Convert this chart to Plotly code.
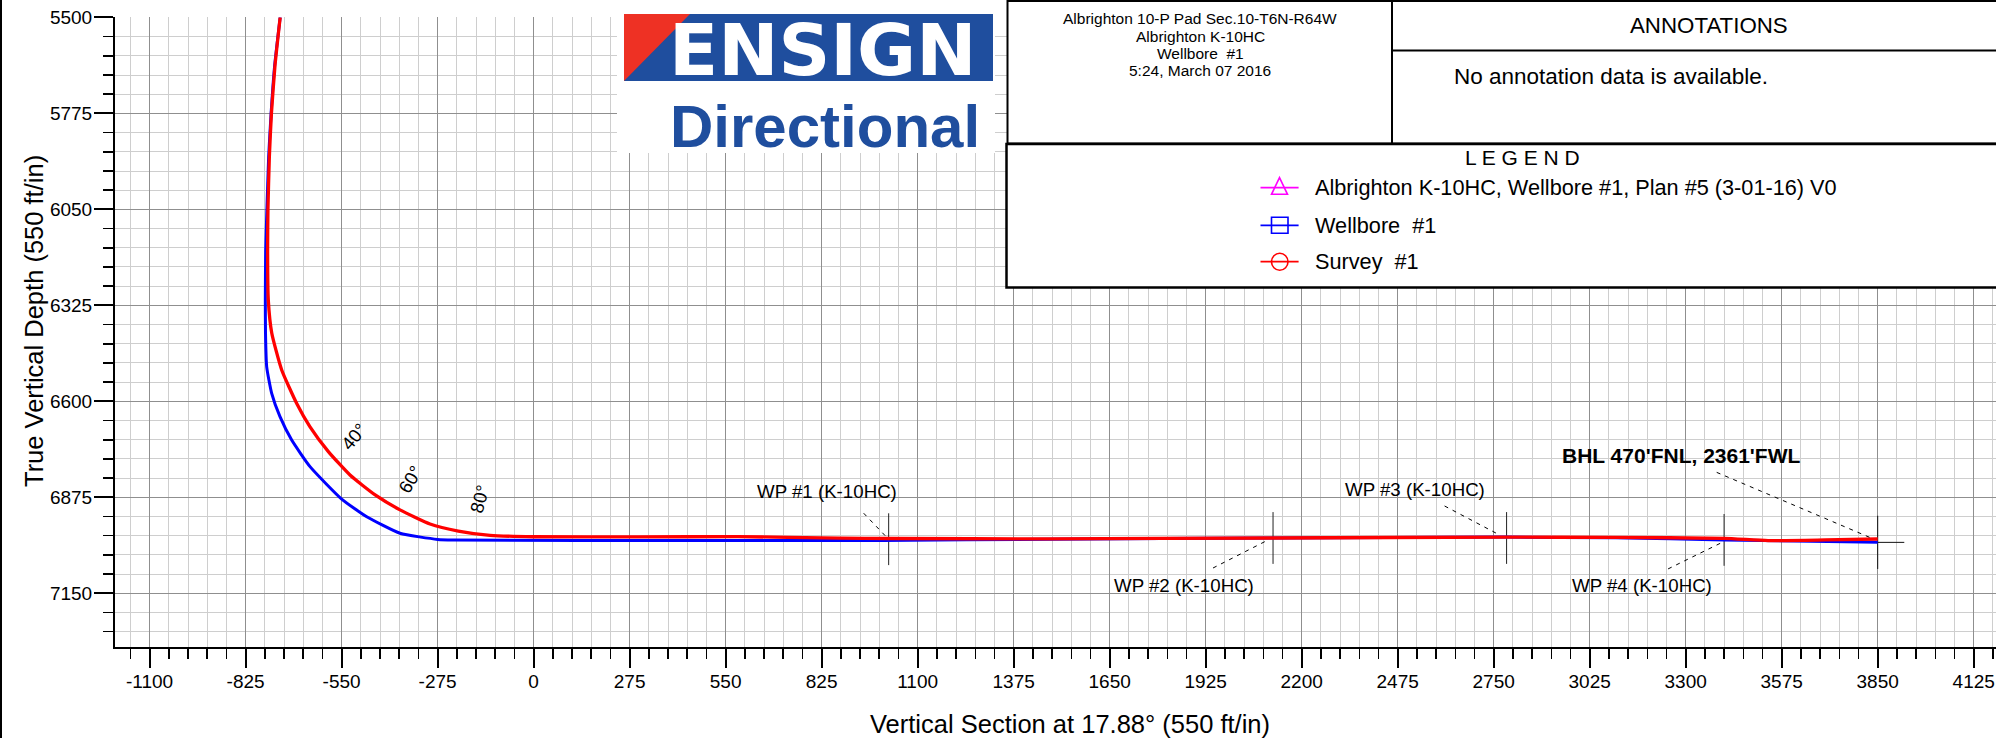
import plotly.graph_objects as go

W, H = 1996, 738

# ---------------- data ----------------
wellbore_vs = [-726, -742, -752, -759, -764, -767.5, -768.5, -768, -764.6, -750.3, -726.5, -693, -640.5,
               -549.8, -478, -382.7, -274.7, -230, 476, 1000, 1479, 2118, 2787, 3100, 3410, 3850]
wellbore_tvd = [5500, 5640, 5775, 5900, 6050, 6170, 6310, 6405, 6501, 6577, 6644, 6711, 6787,
                6880, 6930.6, 6978, 6995.5, 6997.3, 6999, 6998.5, 6995, 6991.5, 6989, 6991, 6997, 7004]

survey_vs = [-726, -741, -751, -757, -761, -762, -760, -750, -721.6, -678.6, -640.5, -588, -526, -454,
             -382.7, -296.8, -215.7, -124.9, -1, 300, 584, 878, 1017, 1479, 2118, 2787, 3100, 3410, 3536, 3700, 3850]
survey_tvd = [5500, 5640, 5775, 5900, 6050, 6170, 6310, 6405, 6510, 6606, 6673, 6744, 6811, 6868,
              6911, 6951.5, 6971.6, 6984, 6988, 6988.5, 6987.5, 6992, 6993, 6994, 6991.5, 6989, 6990, 6992.4, 6999, 6997, 6994.4]

wp_names = ["WP #1 (K-10HC)", "WP #2 (K-10HC)", "WP #3 (K-10HC)", "WP #4 (K-10HC)"]
wp_vs = [1017, 2118, 2787, 3410]
wp_tvd = [6995, 6991.5, 6991.5, 6997]
bhl_name = "BHL 470'FNL, 2361'FWL"
bhl_vs = [3850]
bhl_tvd = [7004]

angle_text = ["40°", "60°", "80°"]
angle_vs = [-514, -354, -155]
angle_tvd = [6701, 6823, 6881]

x_ticks = list(range(-1100, 4126, 275))
y_ticks = list(range(5500, 7151, 275))

legend_names = ["Albrighton K-10HC, Wellbore #1, Plan #5 (3-01-16) V0", "Wellbore  #1", "Survey  #1"]
legend_colors = ["#ff00ff", "#0000ff", "#ff0000"]
header_lines = ["Albrighton 10-P Pad Sec.10-T6N-R64W", "Albrighton K-10HC", "Wellbore  #1", "5:24, March 07 2016"]

# ---------------- layout helpers ----------------
FONT = "Liberation Sans, Arial, sans-serif"


def px(x):
    return x / W


def py(y):
    return 1 - y / H


PL, PR, PT, PB = 115, W, 17.3, 647.3
SCALE = 96 / 275.0  # px per ft
x_range = [-1100 - (149.6 - PL) / SCALE, 4125 + (PR - 1973.7) / SCALE]
y_range = [7150 + (PB - 593.3) / SCALE, 5499.6]

fig = go.Figure()

fig.add_trace(go.Scatter(x=wp_vs, y=wp_tvd, mode="markers",
                         marker=dict(symbol="line-ns", size=37, color="#222",
                                     line=dict(color="#222", width=1)),
                         hoverinfo="skip", showlegend=False))
fig.add_trace(go.Scatter(x=bhl_vs, y=bhl_tvd, mode="markers",
                         marker=dict(symbol="cross-thin", size=38, color="#111",
                                     line=dict(color="#111", width=1)),
                         hoverinfo="skip", showlegend=False))

fig.add_trace(go.Scatter(x=wellbore_vs, y=wellbore_tvd, mode="lines",
                         line=dict(color="#0000ff", width=3, shape="spline", smoothing=0.5),
                         name="Wellbore #1", hoverinfo="skip", showlegend=False))
fig.add_trace(go.Scatter(x=survey_vs, y=survey_tvd, mode="lines",
                         line=dict(color="#ff0000", width=3.3, shape="spline", smoothing=0.5),
                         name="Survey #1", hoverinfo="skip", showlegend=False))

axis_common = dict(
    showline=True, linecolor="black", linewidth=2,
    ticks="outside", ticklen=19, tickwidth=2, tickcolor="black",
    showgrid=True, gridcolor="#8f8f8f", gridwidth=1,
    zeroline=False, tickfont=dict(family=FONT, size=19, color="black"),
    tickmode="array", fixedrange=True, automargin=False,
)

fig.update_layout(
    width=W, height=H, autosize=False,
    margin=dict(l=0, r=0, t=0, b=0, pad=0, autoexpand=False),
    paper_bgcolor="white", plot_bgcolor="white",
    hovermode=False,
    xaxis=dict(domain=[px(PL), 1], range=x_range,
               tickvals=x_ticks, ticktext=[str(v) for v in x_ticks], ticklabelstandoff=-3,
               minor=dict(tickmode="linear", tick0=-1100, dtick=55, ticks="outside", ticklen=10,
                          tickwidth=1.5, tickcolor="black", showgrid=True,
                          gridcolor="#cecece", gridwidth=1),
               **axis_common),
    yaxis=dict(domain=[py(PB), py(PT)], range=y_range,
               tickvals=y_ticks, ticktext=[str(v) for v in y_ticks], ticklabelstandoff=-2,
               minor=dict(tickmode="linear", tick0=5500, dtick=55, ticks="outside", ticklen=10,
                          tickwidth=1.5, tickcolor="black", showgrid=True,
                          gridcolor="#cecece", gridwidth=1),
               **axis_common),
)

shapes = []
annotations = []


def note(x, y, text, size, xanchor="center", yanchor="middle", color="black", family=FONT, **kw):
    d = dict(x=x, y=y, xref="paper", yref="paper", text=text, showarrow=False,
             xanchor=xanchor, yanchor=yanchor, font=dict(family=family, size=size, color=color))
    d.update(kw)
    annotations.append(d)


shapes.append(dict(type="line", xref="paper", yref="paper", x0=px(1), x1=px(1), y0=0, y1=1,
                   line=dict(color="black", width=2), layer="above"))

wp_leaders = [(-25, -26, -3, -3), (-60, 30, -5, 2), (-62, -32, -7, -3), (-56, 29, -1, 2)]
wp_label_shift = [(-62, -48), (-89, 48), (-92, -48), (-82, 46)]
for i in range(len(wp_vs)):
    dx0, dy0, dx1, dy1 = wp_leaders[i]
    shapes.append(dict(type="line", xref="x", yref="y", xsizemode="pixel", ysizemode="pixel",
                       xanchor=wp_vs[i], yanchor=wp_tvd[i], x0=dx0, x1=dx1, y0=-dy0, y1=-dy1,
                       line=dict(color="black", width=1, dash="4px,5px"), layer="above"))
    sx, sy = wp_label_shift[i]
    annotations.append(dict(x=wp_vs[i], y=wp_tvd[i], xref="x", yref="y", text=wp_names[i],
                            showarrow=False, xshift=sx, yshift=-sy, xanchor="center", yanchor="middle",
                            font=dict(family=FONT, size=18.7, color="black")))
shapes.append(dict(type="line", xref="x", yref="y", xsizemode="pixel", ysizemode="pixel",
                   xanchor=bhl_vs[0], yanchor=bhl_tvd[0], x0=-161, x1=-8, y0=70, y1=5,
                   line=dict(color="black", width=1, dash="4px,5px"), layer="above"))
annotations.append(dict(x=bhl_vs[0], y=bhl_tvd[0], xref="x", yref="y", text="<b>%s</b>" % bhl_name,
                        showarrow=False, xshift=-197, yshift=87, xanchor="center", yanchor="middle",
                        font=dict(family=FONT, size=21, color="black")))

for t, xv, yv, ang in zip(angle_text, angle_vs, angle_tvd, [-50, -59, -75]):
    annotations.append(dict(x=xv, y=yv, xref="x", yref="y", text=t, showarrow=False,
                            xanchor="center", yanchor="middle",
                            textangle=ang, font=dict(family=FONT, size=18.5, color="black")))

note(px(1070), py(724), "Vertical Section at 17.88° (550 ft/in)", 25.5)
note(px(34), py(321), "True Vertical Depth (550 ft/in)", 25.5, textangle=-90)

# ---------- logo ----------
shapes.append(dict(type="rect", xref="paper", yref="paper", x0=px(617), x1=px(995), y0=py(153), y1=py(0),
                   fillcolor="white", line=dict(width=0), layer="above"))
shapes.append(dict(type="rect", xref="paper", yref="paper", x0=px(624), x1=px(993), y0=py(81), y1=py(14),
                   fillcolor="#1f4e9e", line=dict(width=0), layer="above"))
shapes.append(dict(type="path", xref="paper", yref="paper",
                   path="M %f,%f L %f,%f L %f,%f Z" % (px(624), py(14), px(690), py(14), px(624), py(81)),
                   fillcolor="#ee3124", line=dict(width=0), layer="above"))
note(px(822), py(50), "<b>ENSIGN</b>", 72, color="white", family="DejaVu Sans, sans-serif")
note(px(825), py(126), "<b>Directional</b>", 60, color="#1f4e9e")

# ---------- header box ----------
shapes.append(dict(type="rect", xref="paper", yref="paper", x0=px(1007.5), x1=px(1392), y0=py(143.5), y1=py(1),
                   fillcolor="white", line=dict(color="black", width=2), layer="above"))
for txt, yy in zip(header_lines, [19, 36, 53, 70.5]):
    note(px(1200), py(yy), txt, 15.5)

# ---------- annotations box ----------
shapes.append(dict(type="rect", xref="paper", yref="paper", x0=px(1392), x1=px(2004), y0=py(143.5), y1=py(1),
                   fillcolor="white", line=dict(color="black", width=2), layer="above"))
shapes.append(dict(type="line", xref="paper", yref="paper", x0=px(1392), x1=px(2004), y0=py(50.5), y1=py(50.5),
                   line=dict(color="black", width=2), layer="above"))
note(px(1709), py(25), "ANNOTATIONS", 22.3)
note(px(1452), py(76), "No annotation data is available.", 22.5, xanchor="left")

# ---------- legend box ----------
shapes.append(dict(type="rect", xref="paper", yref="paper", x0=px(1006.5), x1=px(2004), y0=py(287.5), y1=py(144),
                   fillcolor="white", line=dict(color="black", width=2.5), layer="above"))
note(px(1522), py(157), "L E G E N D", 21)
row_y = [187.7, 225.3, 261.7]
for i, (name, col, yy) in enumerate(zip(legend_names, legend_colors, row_y)):
    shapes.append(dict(type="line", xref="paper", yref="paper", x0=px(1260.5), x1=px(1298.6), y0=py(yy), y1=py(yy),
                       line=dict(color=col, width=1.8), layer="above"))
    if i == 0:
        shapes.append(dict(type="path", xref="paper", yref="paper",
                           path="M %f,%f L %f,%f L %f,%f Z" % (px(1279.5), py(yy - 10), px(1271.5), py(yy + 6.6),
                                                               px(1287.5), py(yy + 6.6)),
                           line=dict(color=col, width=1.6), layer="above"))
    elif i == 1:
        shapes.append(dict(type="rect", xref="paper", yref="paper", x0=px(1271.5), x1=px(1288), y0=py(yy + 8),
                           y1=py(yy - 8), line=dict(color=col, width=1.6), layer="above"))
    else:
        shapes.append(dict(type="circle", xref="paper", yref="paper", x0=px(1271.5), x1=px(1288), y0=py(yy + 8.5),
                           y1=py(yy - 8.5), line=dict(color=col, width=1.6), layer="above"))
    note(px(1312.6), py(yy), name, 21.7, xanchor="left")

fig.update_layout(shapes=shapes, annotations=annotations)

PIN = ("document.documentElement.style.margin='0';document.documentElement.style.overflow='hidden';"
       "document.body.style.margin='0';document.body.style.overflow='hidden';"
       "var g=document.getElementsByClassName('plotly-graph-div')[0];"
       "g.style.position='fixed';g.style.left='0px';g.style.top='0px';")
fig.write_html("out.html", config={"displayModeBar": False, "staticPlot": True}, post_script=PIN)
